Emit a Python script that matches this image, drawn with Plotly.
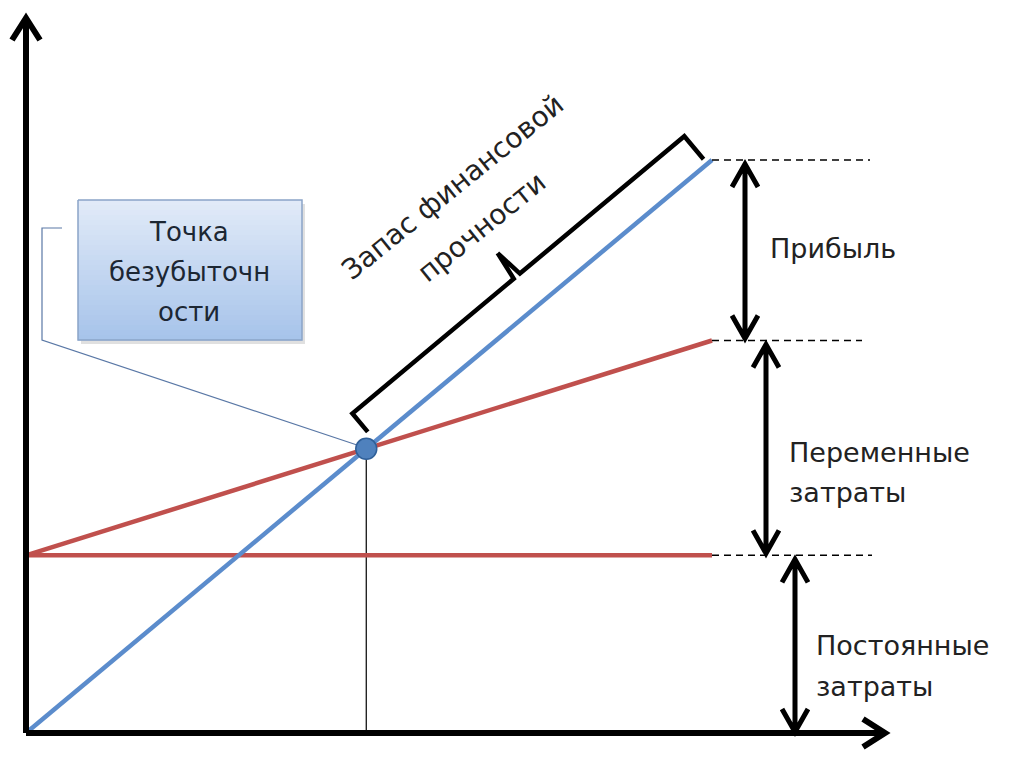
import math
import plotly.graph_objects as go

# ---------------- data ----------------
volume = [0, 100]            # sales volume
revenue = [0, 100]           # revenue line (blue)
fixed_costs = [31, 31]       # fixed costs (red horizontal)
total_costs = [31, 68.5]     # total costs (red sloped)

label_profit = "Прибыль"
label_variable = ["Переменные", "затраты"]
label_fixed = ["Постоянные", "затраты"]
callout_lines = ["Точка", "безубыточн", "ости"]
margin_lines = ["Запас финансовой", "прочности"]

# ---------------- layout helpers (pixel <-> data) ----------------
W, H = 1024, 767
OX, OY = 26, 733          # pixel of data origin
SX = (712 - OX) / 100.0   # px per volume unit
SY = (OY - 160) / 100.0   # px per money unit


def to_px(x, y):
    return OX + SX * x, OY - SY * y


def to_data(px, py):
    return (px - OX) / SX, (OY - py) / SY


def path_px(subpaths):
    parts = []
    for sp in subpaths:
        for i, (px, py) in enumerate(sp):
            x, y = to_data(px, py)
            parts.append(("M" if i == 0 else "L") + f"{x:.4f},{y:.4f}")
    return " ".join(parts)


# break-even point from the data
slope_r = (revenue[1] - revenue[0]) / (volume[1] - volume[0])
slope_c = (total_costs[1] - total_costs[0]) / (volume[1] - volume[0])
q_be = (total_costs[0] - revenue[0]) / (slope_r - slope_c)
y_be = revenue[0] + slope_r * q_be

BLUE = "#4f81bd"
RED = "#c0504d"
TXT = "#222222"
FONT = "DejaVu Sans"

fig = go.Figure()

# thin vertical line from the break-even point to the x axis
fig.add_trace(go.Scatter(x=[q_be, q_be], y=[0, y_be], mode="lines",
                         line=dict(color="black", width=1.2), hoverinfo="skip"))
# fixed costs
fig.add_trace(go.Scatter(x=volume, y=fixed_costs, mode="lines",
                         line=dict(color=RED, width=4.5), hoverinfo="skip"))
# total costs
fig.add_trace(go.Scatter(x=volume, y=total_costs, mode="lines",
                         line=dict(color=RED, width=4.5), hoverinfo="skip"))
# revenue
fig.add_trace(go.Scatter(x=volume, y=revenue, mode="lines",
                         line=dict(color="#5b8ccc", width=4.5), hoverinfo="skip"))
# break-even dot
fig.add_trace(go.Scatter(x=[q_be], y=[y_be], mode="markers",
                         marker=dict(size=21, color=BLUE,
                                     line=dict(color="#2f5f98", width=1.5)),
                         hoverinfo="skip"))

shapes = []

# ---- axes with chevron arrowheads ----
ax_w = 6
x_end_px = 885
y_top_px = 18
shapes.append(dict(type="path", path=path_px([[(OX, OY), (x_end_px - 3, OY)]]),
                   line=dict(color="black", width=ax_w)))
shapes.append(dict(type="path", path=path_px([[(x_end_px - 22, OY - 14), (x_end_px, OY), (x_end_px - 22, OY + 14)]]),
                   line=dict(color="black", width=ax_w)))
shapes.append(dict(type="path", path=path_px([[(OX, OY), (OX, y_top_px + 3)]]),
                   line=dict(color="black", width=ax_w)))
shapes.append(dict(type="path", path=path_px([[(OX - 14, y_top_px + 22), (OX, y_top_px), (OX + 14, y_top_px + 22)]]),
                   line=dict(color="black", width=ax_w)))

# ---- dashed guide lines at the right end ----
x_last = volume[-1]
lx0, _ = to_px(x_last, 0)
for val, xend in [(revenue[-1], 870), (total_costs[-1], 862), (fixed_costs[-1], 872)]:
    _, py = to_px(x_last, val)
    shapes.append(dict(type="path", path=path_px([[(lx0, py), (xend, py)]]),
                       line=dict(color="black", width=1.5, dash="7px,5px")))


# ---- double-headed arrows ----
def double_arrow(px, v_top, v_bot, gap_top=4, gap_bot=2):
    _, pt = to_px(0, v_top)
    _, pb = to_px(0, v_bot)
    pt += gap_top
    pb -= gap_bot
    ah_w, ah_h = 13, 23
    return dict(type="path",
                path=path_px([[(px, pt), (px, pb)],
                              [(px - ah_w, pt + ah_h), (px, pt), (px + ah_w, pt + ah_h)],
                              [(px - ah_w, pb - ah_h), (px, pb), (px + ah_w, pb - ah_h)]]),
                line=dict(color="black", width=5))


shapes.append(double_arrow(745, revenue[-1], total_costs[-1]))
shapes.append(double_arrow(766, total_costs[-1], fixed_costs[-1]))
shapes.append(double_arrow(795, fixed_costs[-1], 0, gap_bot=1))

# ---- bracket "margin of safety" parallel to revenue line ----
p0 = to_px(q_be, y_be)
p1 = to_px(volume[-1], revenue[-1])
dx, dy = p1[0] - p0[0], p1[1] - p0[1]
L = math.hypot(dx, dy)
u = (dx / L, dy / L)
n = (u[1], -u[0])  # perpendicular pointing up-left
if n[1] > 0:
    n = (-n[0], -n[1])


def pt(a, o):
    return (p0[0] + u[0] * a + n[0] * o, p0[1] + u[1] * a + n[1] * o)


a0, a1 = 12, L - 6
off = 36
am = (a0 + a1) / 2 - 2
shapes.append(dict(type="path",
                   path=path_px([[pt(a0, 12), pt(a0, off), pt(am - 4, off), pt(am, off + 30)],
                                 [pt(am, off + 30), pt(am + 4, off), pt(a1, off), pt(a1, 6)]]),
                   line=dict(color="black", width=4.5)))

# ---- callout box with gradient fill ----
bx0, by0, bx1, by1 = 78, 200, 302, 340
# shadow
shapes.append(dict(type="path",
                   path=path_px([[(bx0 + 3, by0 + 4), (bx1 + 3, by0 + 4), (bx1 + 3, by1 + 4),
                                  (bx0 + 3, by1 + 4), (bx0 + 3, by0 + 4)]]),
                   fillcolor="rgba(0,0,0,0.12)", line=dict(width=0), layer="below"))
top_c = (226, 235, 248)
bot_c = (166, 195, 234)
N = 28
for i in range(N):
    t = (i + 0.5) / N
    c = tuple(int(round(top_c[k] + (bot_c[k] - top_c[k]) * t)) for k in range(3))
    ya = by0 + (by1 - by0) * i / N
    yb = by0 + (by1 - by0) * (i + 1) / N + 0.6
    shapes.append(dict(type="path",
                       path=path_px([[(bx0, ya), (bx1, ya), (bx1, yb), (bx0, yb), (bx0, ya)]]),
                       fillcolor=f"rgb{c}", line=dict(width=0), layer="below"))
shapes.append(dict(type="path",
                   path=path_px([[(bx0, by0), (bx1, by0), (bx1, by1), (bx0, by1), (bx0, by0)]]),
                   line=dict(color="#8aa4c8", width=1.5), layer="below"))
# leader line to the break-even point
shapes.append(dict(type="path",
                   path=path_px([[(62, 228), (42, 228), (42, 340), (p0[0] - 4, p0[1] - 2)]]),
                   line=dict(color="#5a78a6", width=1.2), layer="below"))

annotations = []


def ann(text, px, py, size, xanchor="left", angle=0, color=TXT):
    x, y = to_data(px, py)
    annotations.append(dict(text=text, x=x, y=y, xref="x", yref="y", showarrow=False,
                            xanchor=xanchor, yanchor="middle", textangle=angle,
                            font=dict(family=FONT, size=size, color=color)))


fs = 27
ann(label_profit, 768, 248, fs)
ann(label_variable[0], 787, 452, fs)
ann(label_variable[1], 787, 492, fs)
ann(label_fixed[0], 814, 645, fs)
ann(label_fixed[1], 814, 686, fs)

for line, py in zip(callout_lines, [232, 272, 312]):
    ann(line, 189, py, 26, xanchor="center", color="#1c2733")

ann(margin_lines[0], 452, 187, 28, xanchor="center", angle=-39)
ann(margin_lines[1], 481, 227, 28, xanchor="center", angle=-39)

xr0, _ = to_data(0, 0)
xr1, _ = to_data(W, 0)
_, yr0 = to_data(0, H)
_, yr1 = to_data(0, 0)

fig.update_layout(
    width=W, height=H,
    margin=dict(l=0, r=0, t=0, b=0),
    paper_bgcolor="white", plot_bgcolor="white",
    showlegend=False,
    xaxis=dict(range=[xr0, xr1], visible=False, fixedrange=True),
    yaxis=dict(range=[yr0, yr1], visible=False, fixedrange=True),
    shapes=shapes,
    annotations=annotations,
)

fig.write_html("out.html", config={"displayModeBar": False},
               post_script="document.body.style.margin='0';document.body.style.overflow='hidden';")
